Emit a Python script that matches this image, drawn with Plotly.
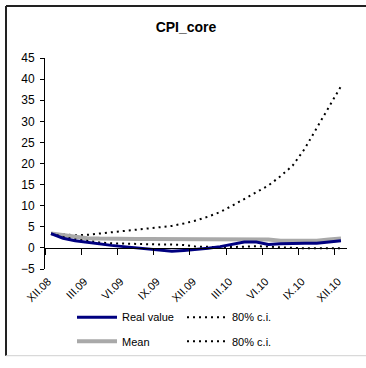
import plotly.graph_objects as go

# Monthly observations, XII.08 .. XII.10
months = ["XII.08", "I.09", "II.09", "III.09", "IV.09", "V.09", "VI.09", "VII.09", "VIII.09",
          "IX.09", "X.09", "XI.09", "XII.09", "I.10", "II.10", "III.10", "IV.10", "V.10",
          "VI.10", "VII.10", "VIII.10", "IX.10", "X.10", "XI.10", "XII.10"]
label_every = 3

real_value = [3.4, 2.3, 1.7, 1.3, 0.9, 0.6, 0.3, 0.0, -0.3, -0.6, -0.8, -0.6, -0.4,
              -0.1, 0.3, 0.9, 1.4, 1.4, 0.8, 1.0, 1.1, 1.1, 1.1, 1.4, 1.7]
mean_fc = [3.4, 3.0, 2.6, 2.3, 2.2, 2.1, 2.1, 2.1, 2.1, 2.1, 2.1, 2.1, 2.1,
           2.1, 2.1, 2.1, 2.1, 2.1, 2.0, 1.7, 1.7, 1.7, 1.7, 2.0, 2.2]
ci_upper = [3.4, 3.2, 3.0, 3.1, 3.4, 3.7, 4.0, 4.3, 4.6, 4.9, 5.2, 5.8, 6.5,
            7.4, 8.5, 10.0, 11.6, 13.0, 14.8, 17.0, 19.5, 23.5, 28.5, 33.5, 38.3]
ci_lower = [3.4, 2.6, 2.0, 1.6, 1.3, 1.1, 1.0, 0.9, 0.9, 0.8, 0.8, 0.7, 0.3,
            0.2, 0.2, 0.2, 0.3, 0.4, 0.3, 0.1, 0.0, -0.1, -0.1, -0.1, -0.1]

y_min, y_max, y_step = -5, 45, 5

FONT = "Liberation Sans Narrow, Arial Narrow, Liberation Sans, Arial, sans-serif"
x = list(range(len(months)))
x_range = [-0.5, len(months) - 0.5]

fig = go.Figure()
fig.add_trace(go.Scatter(x=x, y=real_value, name="Real value", mode="lines",
                         line=dict(color="#000080", width=3), xaxis="x2", legend="legend"))
fig.add_trace(go.Scatter(x=x, y=ci_upper, name="80% c.i.", mode="lines",
                         line=dict(color="black", width=2, dash="2px,4px"), legend="legend"))
fig.add_trace(go.Scatter(x=x, y=mean_fc, name="Mean", mode="lines",
                         line=dict(color="#a9a9a9", width=4), legend="legend2"))
fig.add_trace(go.Scatter(x=x, y=ci_lower, name="80% c.i.", mode="lines",
                         line=dict(color="black", width=2, dash="2px,4px"), legend="legend2"))

# plot-area geometry in pixels
W, H = 366, 368
L, R, T, B = 45, 19, 58, 91
pw, ph = W - L - R, H - T - B


def px_x(p):
    return (p - L) / pw


def px_y(p):
    return (H - B - p) / ph


tick_idx = list(range(0, len(months), label_every))
legend_common = dict(orientation="h", xanchor="left", yanchor="middle",
                     font=dict(family=FONT, size=11, color="black"),
                     bgcolor="rgba(0,0,0,0)", itemwidth=40,
                     entrywidthmode="pixels", entrywidth=55)

fig.update_layout(
    width=W, height=H,
    margin=dict(l=L, r=R, t=T, b=B),
    paper_bgcolor="white", plot_bgcolor="white",
    font=dict(family=FONT, size=12, color="black"),
    title=dict(text="<b>CPI_core</b>", x=186 / W, xref="container", xanchor="center",
               y=1 - 27 / H, yref="container", yanchor="middle",
               font=dict(family=FONT, size=14, color="black")),
    xaxis=dict(range=x_range, tickvals=tick_idx, ticktext=[months[i] for i in tick_idx],
               tickangle=-45, ticks="", showline=False, showgrid=False, zeroline=False,
               ticklabelstandoff=3, ticklabelshift=-3, tickfont=dict(size=11)),
    xaxis2=dict(range=x_range, overlaying="x", anchor="free",
                position=(0 - y_min) / (y_max - y_min),
                tickvals=[i - 0.5 for i in tick_idx], showticklabels=False,
                ticks="outside", ticklen=6, tickcolor="black",
                showline=True, linecolor="black", linewidth=1,
                showgrid=False, zeroline=False),
    yaxis=dict(range=[y_min, y_max], dtick=y_step, tick0=0, showline=True,
               linecolor="black", linewidth=1, ticks="outside", ticklen=4,
               tickcolor="black", showgrid=False, zeroline=False,
               ticklabelstandoff=3, tickfont=dict(size=12)),
    legend=dict(x=px_x(72), y=px_y(327), **legend_common),
    legend2=dict(x=px_x(72), y=px_y(352), **legend_common),
    showlegend=True,
    shapes=[
        dict(type="line", xref="paper", yref="paper", x0=px_x(6), x1=px_x(W),
             y0=px_y(4), y1=px_y(4), line=dict(color="#222222", width=2)),
        dict(type="line", xref="paper", yref="paper", x0=px_x(6), x1=px_x(6),
             y0=px_y(4), y1=px_y(367), line=dict(color="#222222", width=2)),
        dict(type="line", xref="paper", yref="paper", x0=px_x(6), x1=px_x(W),
             y0=px_y(367), y1=px_y(367), line=dict(color="#d0d0d0", width=1)),
    ],
)

fig.write_html("out.html")
